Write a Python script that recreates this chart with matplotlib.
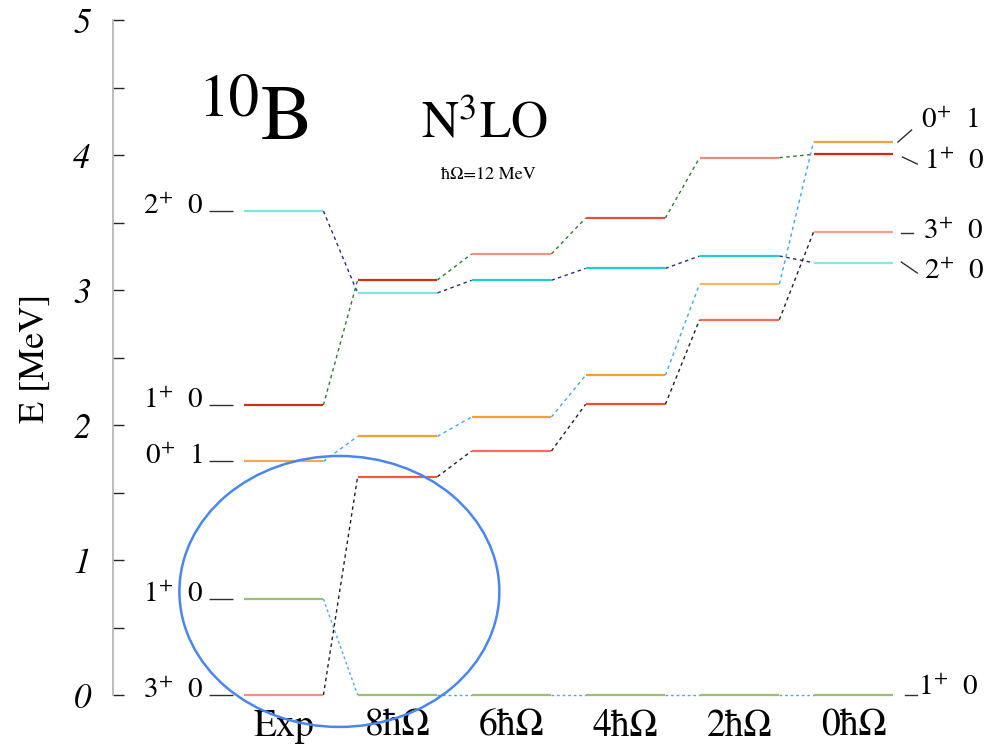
import matplotlib
matplotlib.use("Agg")
import matplotlib.pyplot as plt
from matplotlib.patches import Ellipse

plt.rcParams["font.family"] = ["STIXGeneral", "DejaVu Sans"]
plt.rcParams["mathtext.fontset"] = "stix"

# columns of the level scheme
columns = ["Exp", "8ħΩ", "6ħΩ", "4ħΩ", "2ħΩ", "0ħΩ"]

# excitation energies [MeV] of each tracked state, one value per column
e_2p0 = [3.585, 2.978, 3.072, 3.160, 3.252, 3.202]
e_1p0_hi = [2.148, 3.074, 3.267, 3.533, 3.980, 4.005]
e_0p1 = [1.730, 1.916, 2.059, 2.368, 3.044, 4.098]
e_1p0_lo = [0.711, 0.0, 0.0, 0.0, 0.0, 0.0]
e_3p0 = [0.0, 1.617, 1.807, 2.153, 2.780, 3.430]

left_labels = ["$2^{+}$  0", "$1^{+}$  0", "$0^{+}$  1", "$1^{+}$  0", "$3^{+}$  0"]
right_labels = ["$0^{+}$  1", "$1^{+}$  0", "$3^{+}$  0", "$2^{+}$  0", "$1^{+}$  0"]

states = [
    # energies, level colours per column, connector colour, connector dashes
    (e_2p0, ["#7fe3e3", "#7fe3e3", "#1fcfd6", "#1fcfd6", "#1fcfd6", "#8fe3e3"], "#2a2a80", (0, (2.5, 2.5))),
    (e_1p0_hi, ["#c83018", "#c83018", "#e89584", "#e8503a", "#e88b7c", "#d02a10"], "#2f7a2f", (0, (2.5, 2.5))),
    (e_0p1, ["#f4a850", "#f4a030", "#f4a030", "#f4a030", "#f8b860", "#f4a040"], "#40a8f0", (0, (2.5, 2.5))),
    (e_1p0_lo, ["#98c070", "#98c070", "#98c070", "#98c070", "#98c070", "#98c070"], "#50a8e8", (0, (2, 2))),
    (e_3p0, ["#f49080", "#f05a3a", "#f07060", "#f05030", "#f06a58", "#f4a090"], "#202020", (0, (2.5, 2.5))),
]

hw = 0.35  # half width of a level bar

fig = plt.figure(figsize=(9.98, 7.5), dpi=100)
ax = fig.add_axes([113 / 998, 55 / 750, 885 / 998, 675 / 750])
ax.set_xlim(-1.496, 6.268)
ax.set_ylim(0, 5)

for energies, colors, ccol, dash in states:
    for i, (e, c) in enumerate(zip(energies, colors)):
        ax.plot([i - hw, i + hw], [e, e], color=c, lw=1.6, solid_capstyle="butt",
                clip_on=False, zorder=3)
    for i in range(len(energies) - 1):
        ax.plot([i + hw, i + 1 - hw], [energies[i], energies[i + 1]],
                color=ccol, lw=1.0, linestyle=dash, clip_on=False, zorder=2)

# labels of the experimental levels
exp_levels = [s[0][0] for s in states]
for lab, e in zip(left_labels, exp_levels):
    ax.plot([-0.65, -0.44], [e, e], color="#303030", lw=1.0, solid_capstyle="butt",
            clip_on=False)
    ax.text(-0.70, e + 0.03, lab, ha="right", va="center", fontsize=21)

# labels of the 0ħΩ levels
right_y = [4.25, 3.95, 3.43, 3.13, 0.05]
leaders = [
    ((5.39, 4.096), (5.51, 4.185)),
    ((5.43, 3.985), (5.56, 3.933)),
    ((5.42, 3.42), (5.52, 3.42)),
    ((5.42, 3.207), (5.56, 3.126)),
    ((5.45, 0.0), (5.56, 0.0)),
]
right_x = [5.59, 5.62, 5.61, 5.62, 5.57]
for lab, ty, tx, (p0, p1) in zip(right_labels, right_y, right_x, leaders):
    ax.plot([p0[0], p1[0]], [p0[1], p1[1]], color="#303030", lw=1.0, clip_on=False)
    ax.text(tx, ty, lab, ha="left", va="center", fontsize=21)

ax.add_patch(Ellipse((0.49, 0.767), width=2.807, height=2.007, fill=False,
                     ec="#4a86f0", lw=1.8, clip_on=False, zorder=4))

for side in ["top", "right", "bottom"]:
    ax.spines[side].set_visible(False)
ax.spines["left"].set_color("#b0b0b0")
ax.spines["left"].set_linewidth(1.2)

ax.set_yticks(range(6))
ax.set_yticks([v + 0.5 for v in range(5)], minor=True)
ax.tick_params(axis="y", which="both", direction="in", length=8, width=1.0,
               color="#222222", pad=16, labelsize=25)
for t in ax.get_yticklabels():
    t.set_fontstyle("italic")
ax.set_xticks(range(len(columns)), columns)
ax.tick_params(axis="x", length=0, pad=10, labelsize=27)

fig.text(35 / 998, 1 - 358 / 750, "E [MeV]", rotation=90, ha="center", va="center", fontsize=26)
fig.text(259 / 998, 1 - 115 / 750, "10", ha="right", va="baseline", fontsize=44)
fig.text(261 / 998, 1 - 139 / 750, "B", ha="left", va="baseline", fontsize=56)
fig.text(484 / 998, 1 - 137 / 750, "N$^3$LO", ha="center", va="baseline", fontsize=37)
fig.text(488 / 998, 1 - 179 / 750, "ħΩ=12 MeV", ha="center", va="baseline", fontsize=13)

fig.savefig("out.png", dpi=100)
